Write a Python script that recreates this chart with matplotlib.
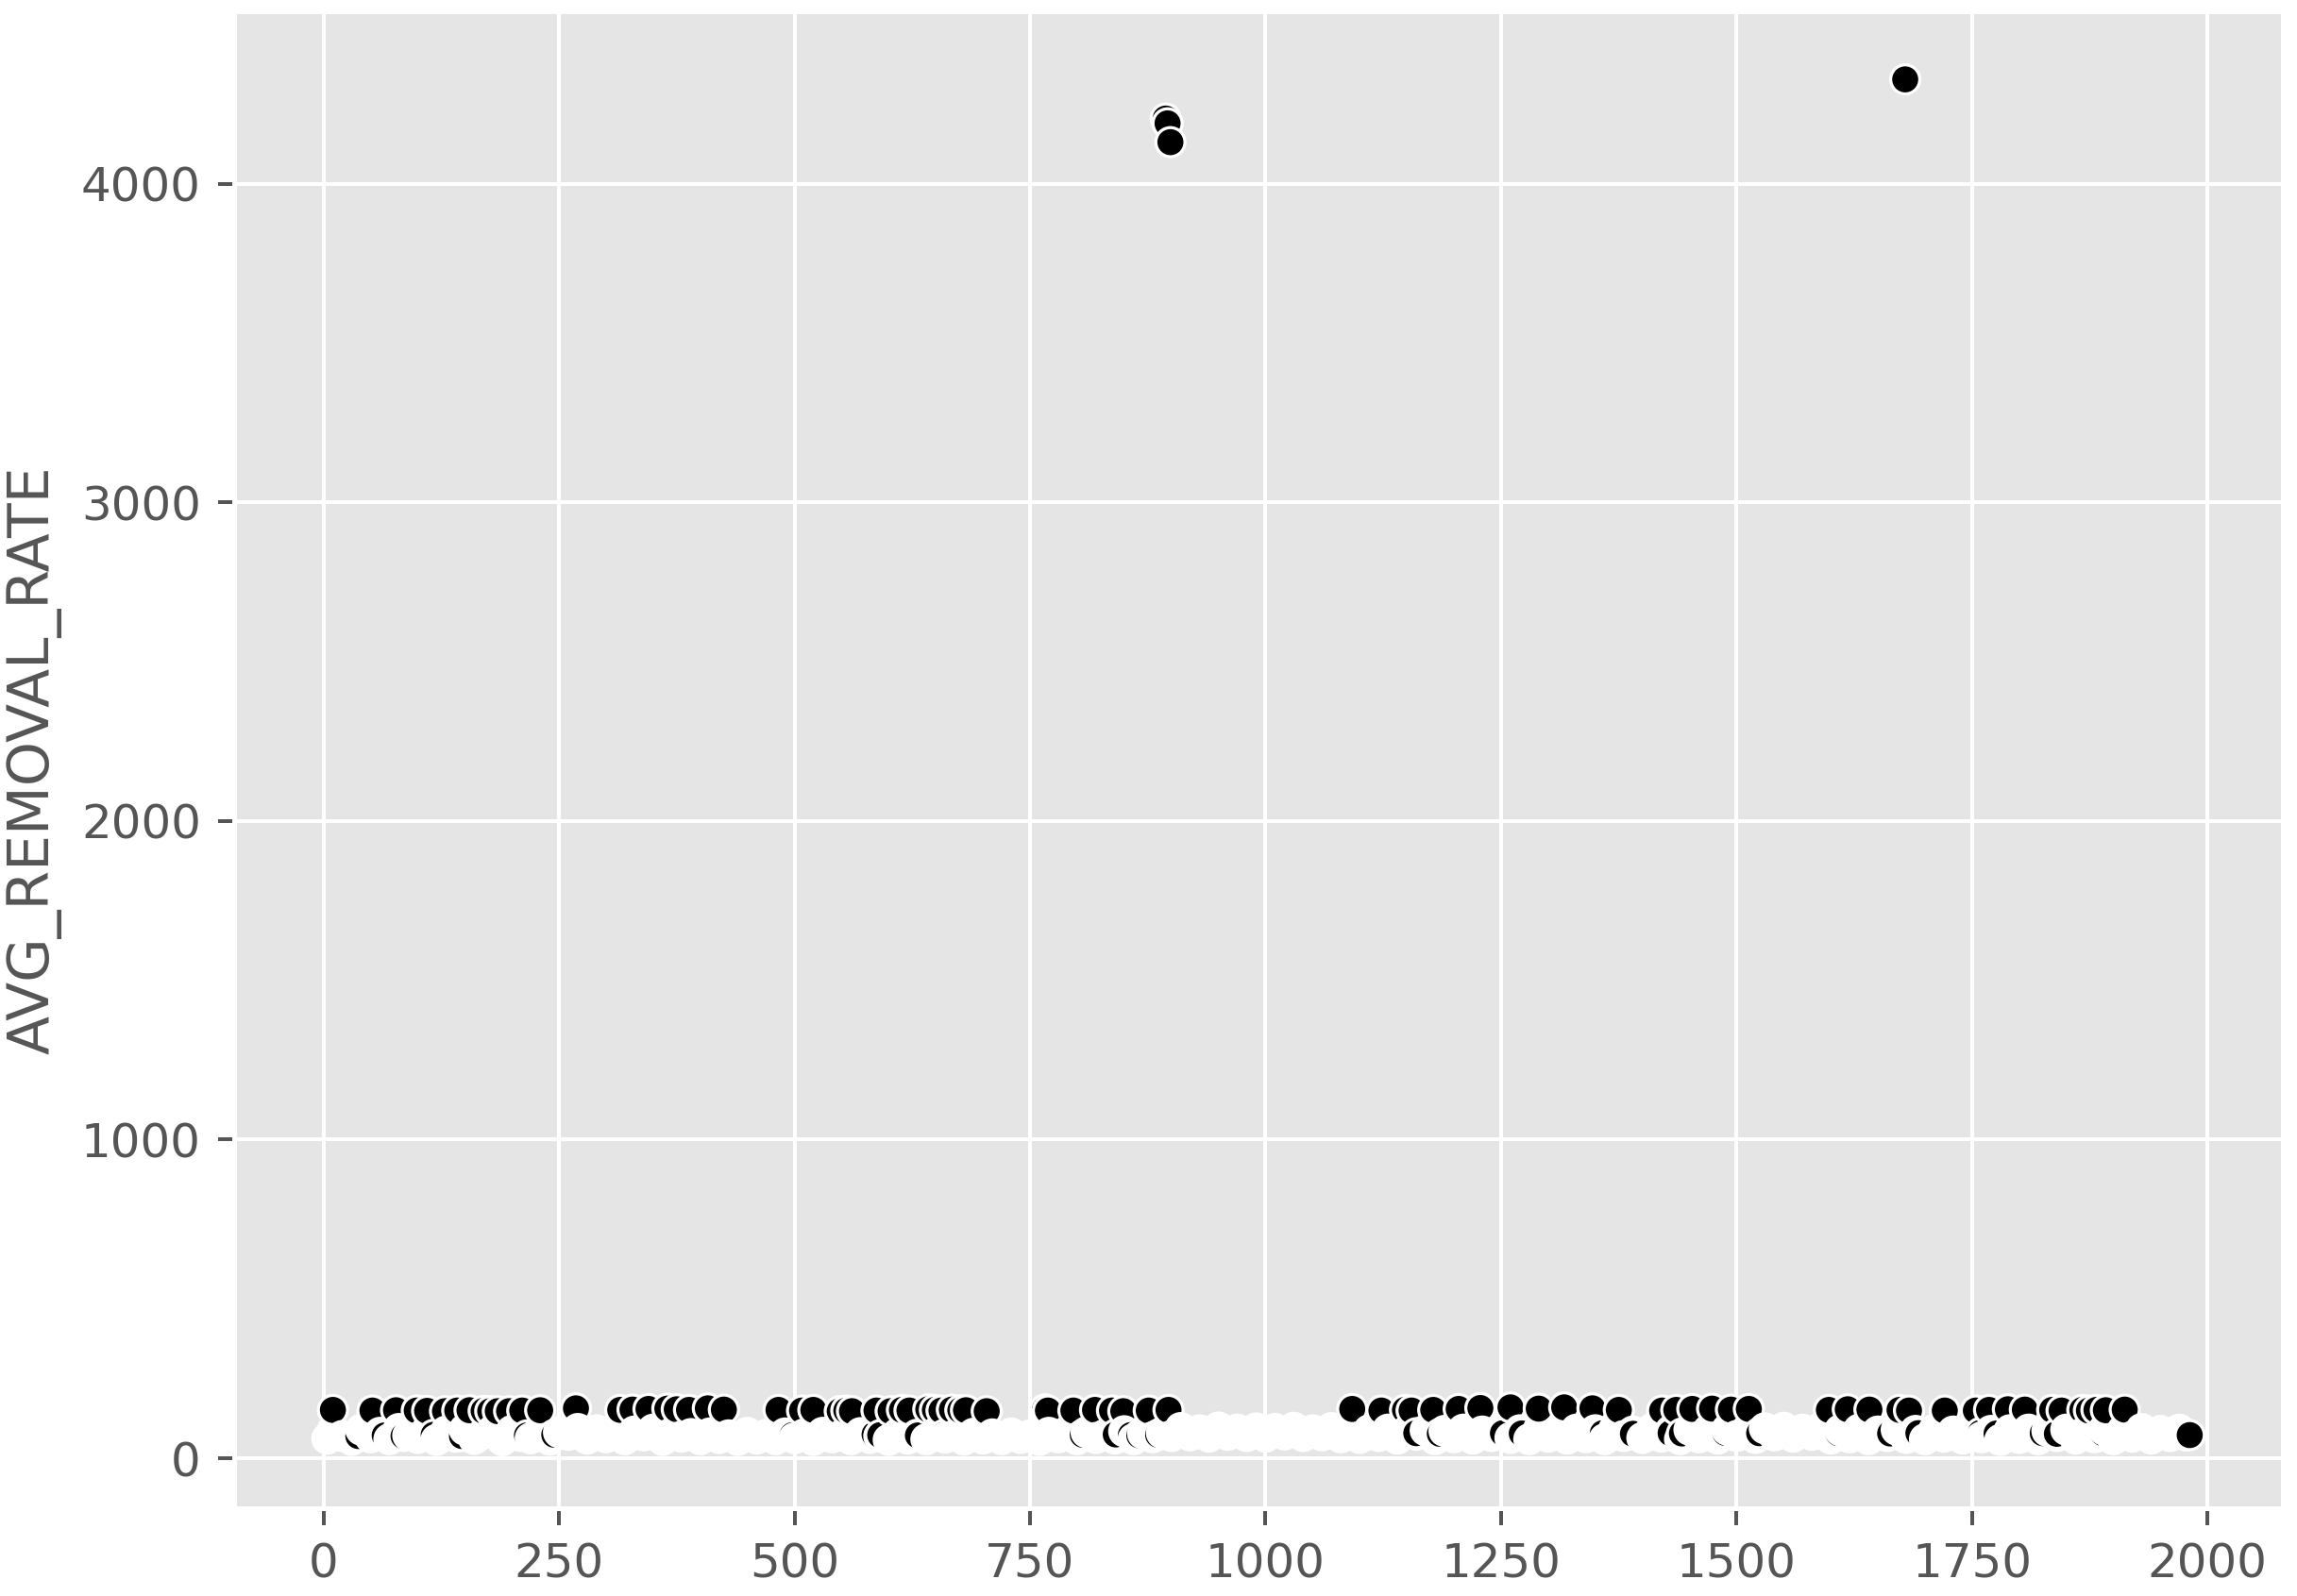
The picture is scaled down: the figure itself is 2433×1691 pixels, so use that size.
import matplotlib
matplotlib.use("Agg")
import matplotlib.pyplot as plt
import numpy as np

# ---------------- data ----------------
# dense lower band of white-faced points (row index, AVG_REMOVAL_RATE)
white_x = [4, 10, 20, 30, 40, 50, 60, 70, 80, 90,
           100, 110, 120, 130, 140, 150, 160, 170, 180, 190,
           200, 210, 220, 230, 240, 250, 260, 270, 280, 290,
           300, 310, 320, 330, 340, 350, 360, 370, 380, 390,
           400, 410, 420, 430, 440, 450, 460, 470, 480, 490,
           500, 510, 520, 530, 540, 550, 560, 570, 580, 590,
           600, 610, 620, 630, 640, 650, 660, 670, 680, 690,
           700, 710, 720, 730, 740, 750, 760, 770, 780, 790,
           800, 810, 820, 830, 840, 850, 860, 870, 880, 890,
           900, 910, 920, 930, 940, 950, 960, 970, 980, 990,
           1000, 1010, 1020, 1030, 1040, 1050, 1060, 1070, 1080, 1090,
           1100, 1110, 1120, 1130, 1140, 1150, 1160, 1170, 1180, 1190,
           1200, 1210, 1220, 1230, 1240, 1250, 1260, 1270, 1280, 1290,
           1300, 1310, 1320, 1330, 1340, 1350, 1360, 1370, 1380, 1390,
           1400, 1410, 1420, 1430, 1440, 1450, 1460, 1470, 1480, 1490,
           1500, 1510, 1520, 1530, 1540, 1550, 1560, 1570, 1580, 1590,
           1600, 1610, 1620, 1630, 1640, 1650, 1660, 1670, 1680, 1690,
           1700, 1710, 1720, 1730, 1740, 1750, 1760, 1770, 1780, 1790,
           1800, 1810, 1820, 1830, 1840, 1850, 1860, 1870, 1880, 1890,
           1900, 1910, 1920, 1930, 1940, 1950, 1960, 1970, 1977]
white_y = [62, 88, 70, 58, 90, 66, 80, 60, 92, 72,
           64, 88, 58, 84, 68, 90, 61, 78, 88, 57,
           86, 70, 63, 90, 59, 82, 74, 92, 62, 88,
           66, 90, 60, 84, 72, 90, 58, 80, 68, 76,
           60, 78, 64, 72, 58, 80, 62, 74, 60, 78,
           63, 75, 58, 80, 66, 72, 60, 79, 64, 70,
           58, 78, 62, 74, 60, 80, 65, 72, 59, 77,
           62, 75, 60, 78, 64, 72, 58, 80, 66, 76,
           60, 82, 64, 74, 62, 85, 60, 78, 66, 80,
           70, 95, 72, 88, 68, 97, 74, 90, 70, 94,
           68, 92, 75, 96, 70, 88, 72, 95, 66, 90,
           64, 88, 70, 90, 62, 85, 74, 88, 60, 86,
           66, 90, 62, 84, 70, 92, 64, 88, 60, 90,
           68, 86, 62, 90, 66, 88, 60, 90, 70, 84,
           64, 92, 68, 86, 60, 90, 66, 88, 62, 90,
           70, 86, 64, 94, 72, 96, 68, 90, 74, 97,
           62, 88, 66, 90, 60, 84, 70, 90, 64, 86,
           60, 90, 68, 84, 62, 90, 66, 86, 58, 88,
           64, 90, 60, 86, 70, 90, 62, 84, 66, 90,
           60, 88, 68, 92, 62, 86, 70, 90, 72]

# black-faced points inside the lower band
black_low_x = [37, 65, 85, 117, 147, 216, 245, 498, 538, 585, 591, 631, 659,
               779, 806, 829, 841, 857, 866, 886, 1160, 1185, 1252, 1272,
               1358, 1390, 1430, 1442, 1488, 1524, 1608, 1663, 1693, 1759,
               1776, 1825, 1840, 1889, 1981]
black_low_y = [70, 72, 70, 74, 70, 72, 74, 73, 72, 75, 73, 72, 74,
               73, 74, 72, 75, 73, 72, 74, 79, 77, 79, 78,
               79, 77, 79, 78, 80, 79, 79, 78, 79, 80,
               78, 79, 77, 79, 73]

# black-faced upper row (~150) and the outliers above 4000
black_top_x = [10, 52, 77, 99, 110, 129, 142, 155, 170, 177, 185, 197, 211, 230,
               268, 315, 328, 345, 365, 375, 388, 408, 425, 483, 508, 520, 548,
               555, 561, 587, 602, 614, 622, 642, 649, 656, 667, 676, 682, 704,
               766, 769, 796, 819, 837, 849, 876, 894, 896, 897, 899, 1092, 1123,
               1148, 1155, 1178, 1205, 1228, 1260, 1290, 1317, 1347, 1375, 1421,
               1436, 1453, 1474, 1494, 1513, 1598, 1618, 1641, 1673, 1679, 1683,
               1721, 1754, 1768, 1788, 1806, 1835, 1845, 1867, 1874, 1882, 1892,
               1912]
black_top_y = [152, 150, 151, 150, 149, 148, 150, 151, 149, 148, 148, 148, 150, 151,
               157, 152, 153, 155, 156, 154, 152, 157, 153, 152, 150, 152, 148,
               150, 148, 150, 148, 152, 150, 154, 152, 150, 153, 151, 151, 148,
               154, 150, 150, 152, 150, 148, 150, 4204, 4189, 152, 4130, 155, 150,
               152, 150, 152, 155, 158, 160, 156, 160, 157, 152, 150,
               152, 155, 156, 153, 155, 152, 154, 153, 152, 4327, 150,
               150, 150, 152, 154, 153, 152, 150, 152, 150, 152, 151,
               153]

# ---------------- assemble (drawn in row order) ----------------
xs = np.array(white_x + black_low_x + black_top_x, dtype=float)
ys = np.array(white_y + black_low_y + black_top_y, dtype=float)
faces = (["white"] * len(white_x)) + (["black"] * (len(black_low_x) + len(black_top_x)))
order = np.argsort(xs, kind="stable")
xs = xs[order]
ys = ys[order]
faces = [faces[i] for i in order]

# ---------------- plot ----------------
plt.style.use("ggplot")
plt.rcParams["font.family"] = ["DejaVu Sans"]

DPI = 360
fig = plt.figure(figsize=(2433 / DPI, 1691 / DPI), dpi=DPI)
ax = fig.add_axes([248 / 2433, 1 - 1598 / 1691, (2418 - 248) / 2433, (1598 - 12) / 1691])

ax.scatter(xs, ys, c=faces, edgecolors="white", s=38, linewidths=0.65, zorder=3)

ax.set_ylabel("AVG_REMOVAL_RATE", fontsize=12, color="#555555")
ax.set_xticks([0, 250, 500, 750, 1000, 1250, 1500, 1750, 2000])
ax.set_yticks([0, 1000, 2000, 3000, 4000])
ax.tick_params(labelsize=10, colors="#555555")
ax.grid(True, color="white", linewidth=0.8)
ax.set_axisbelow(True)

fig.savefig("out.png", dpi=DPI)
